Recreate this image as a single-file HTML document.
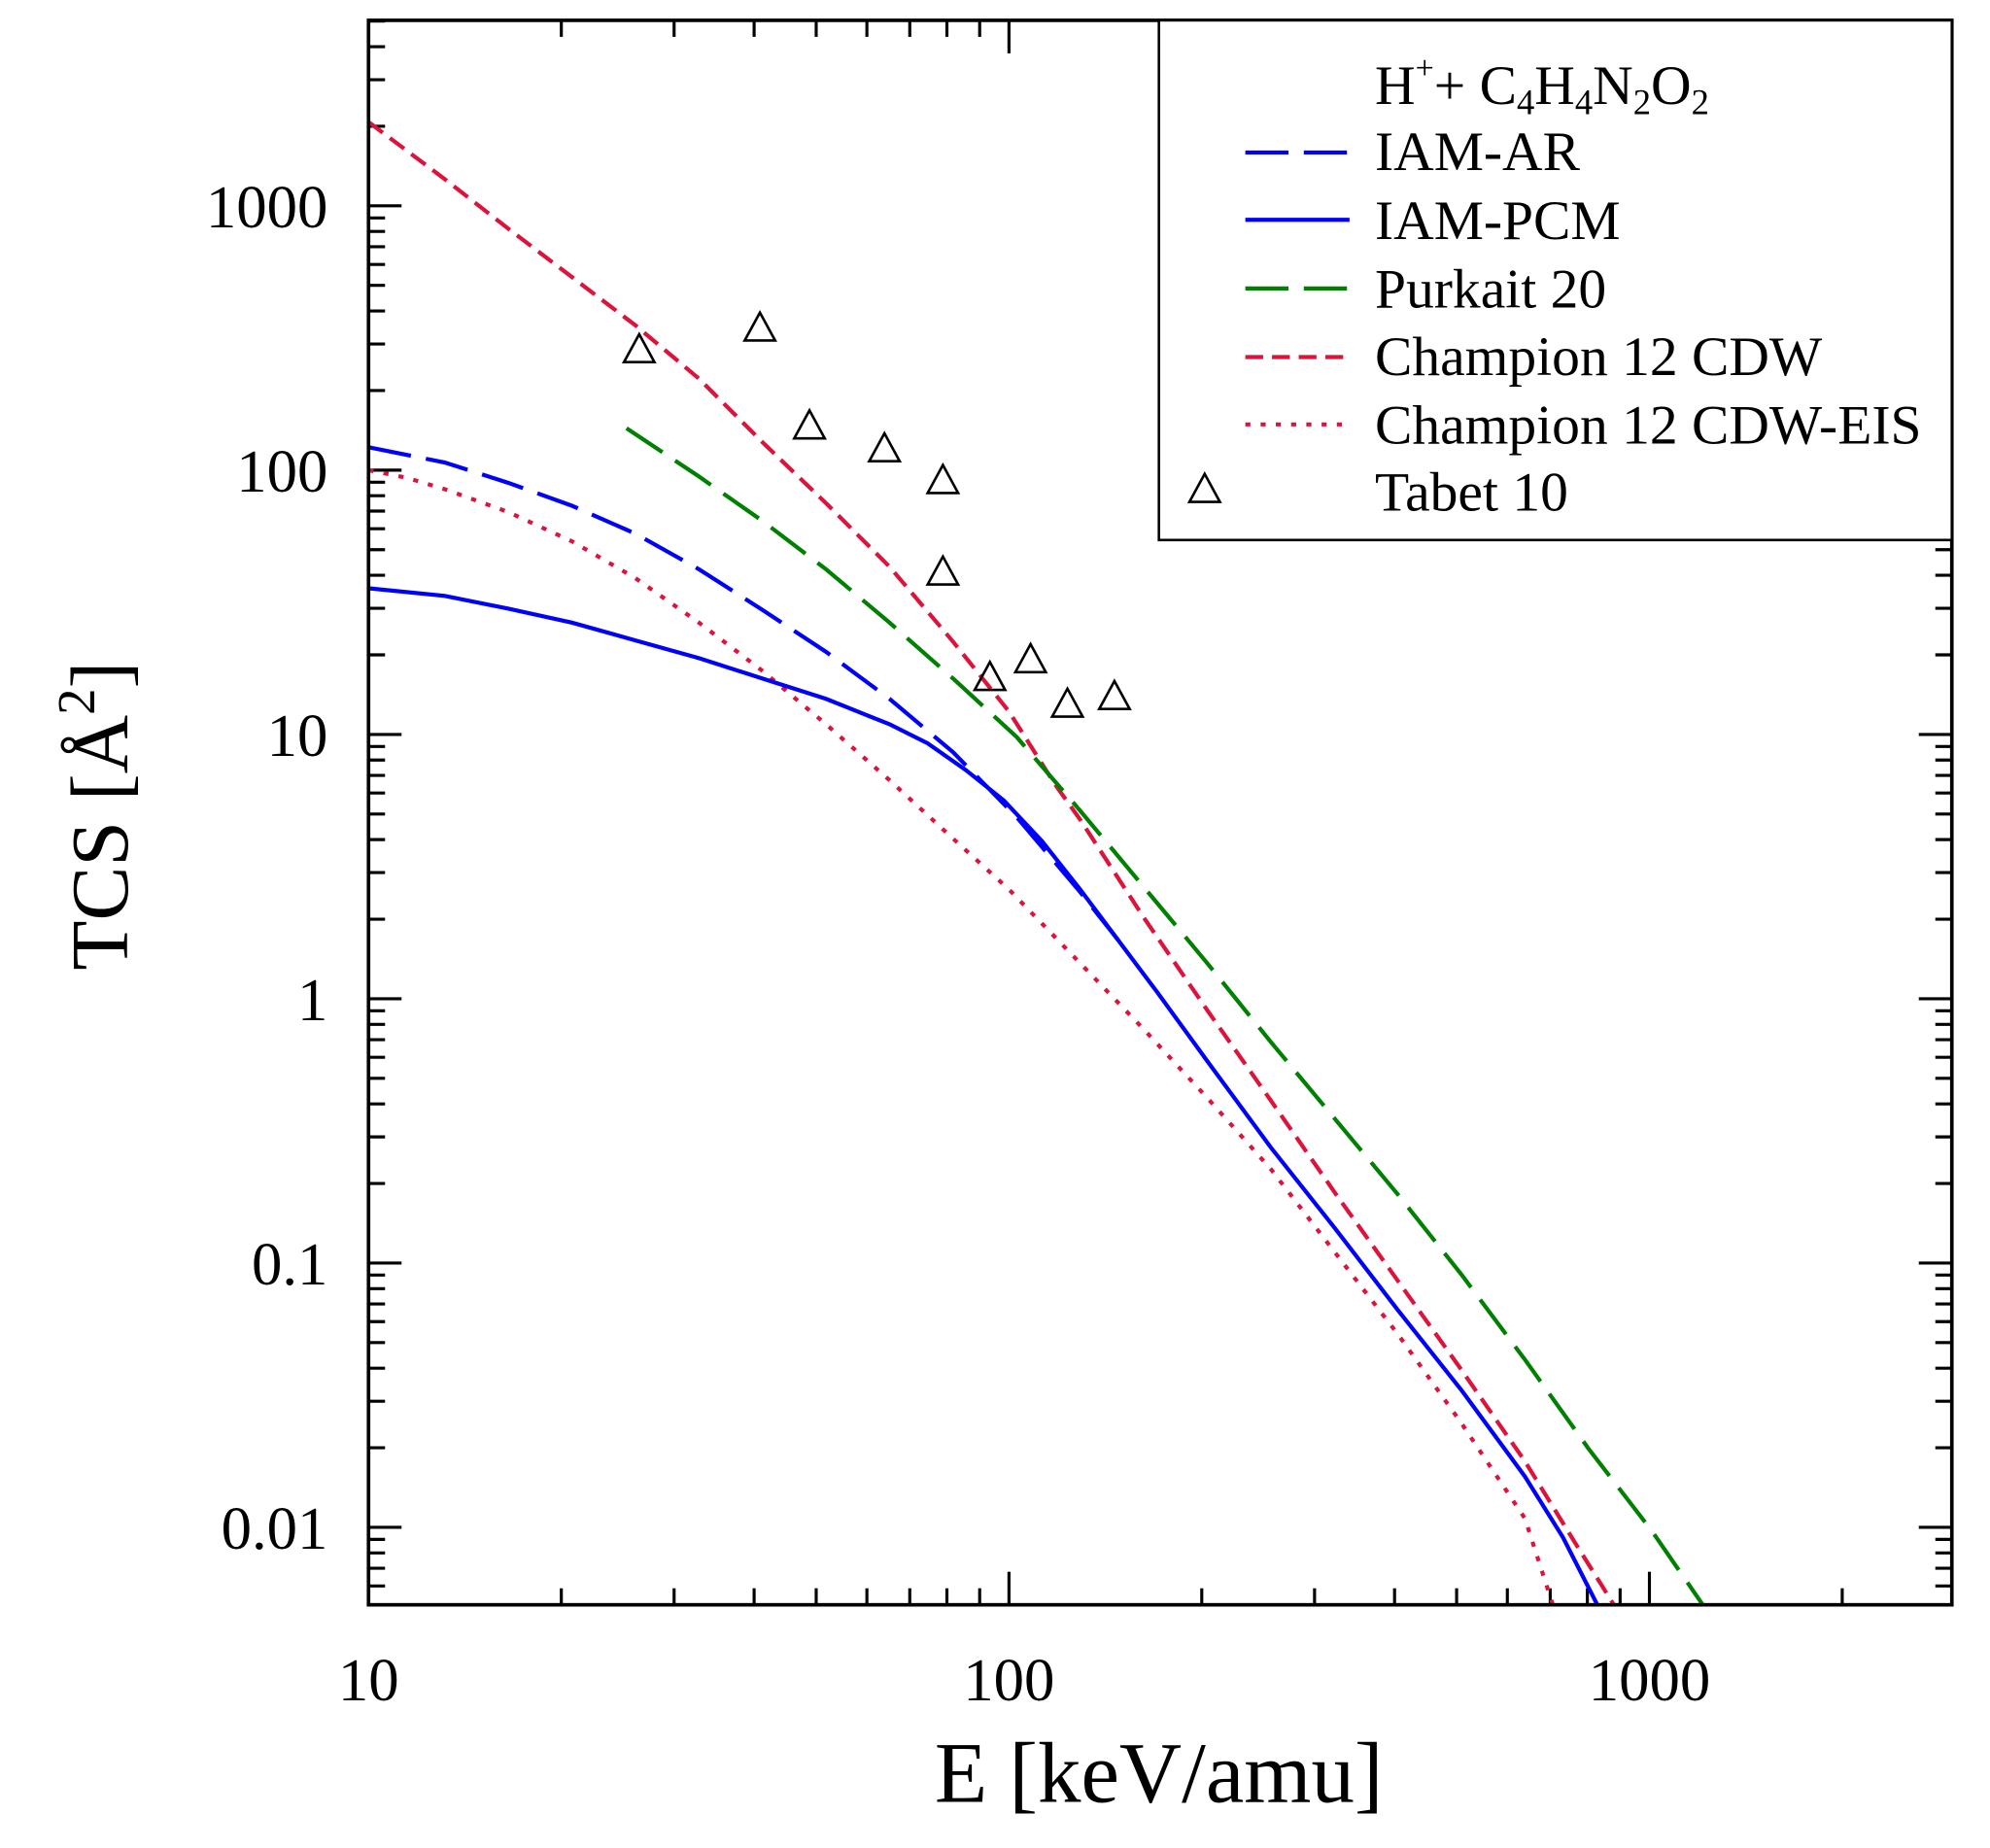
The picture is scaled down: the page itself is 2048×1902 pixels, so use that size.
<!DOCTYPE html>
<html><head><meta charset="utf-8"><style>
html,body{margin:0;padding:0;background:#fff}
svg{display:block}
text{font-family:"Liberation Serif",serif;fill:#000}
</style></head><body>
<svg id="s" width="2048" height="1902" viewBox="0 0 1566 1454.4" xmlns="http://www.w3.org/2000/svg">
<rect x="0" y="0" width="1566" height="1455" fill="#fff"/>
<g id="ticks" stroke="#000" stroke-width="2.4"></g>
<g fill="none" stroke-width="3.2">
<polyline stroke="#dc143c" stroke-dasharray="14,7" points="290,96 350,141 400,180 450,218 500,256 550,298 600,348 650,396 700,446 750,505 794,560 830,617 850,645 900,722 950,795 1000,866 1050,938 1100,1008 1150,1078 1200,1150 1240,1215 1270,1263"/>
<polyline stroke="#dc143c" stroke-dasharray="4,8" points="290,370 320,376 350,385 400,403 450,426 500,455 550,490 600,528 650,570 700,614 750,660 794,700 850,758 900,810 950,864 1000,920 1050,985 1100,1050 1150,1120 1200,1195 1222,1263"/>
<polyline stroke="#0000ff" stroke-dasharray="34,12" points="290,352 350,364 400,380 450,398 500,420 550,448 600,480 650,513 700,550 750,592 800,643 850,702 880,740"/>
<polyline stroke="#0000ff" points="290,463 350,469 400,479 450,490 500,504 550,518 600,534 650,550 700,570 730,585 760,606 790,630 820,662 850,700 880,740 910,780 950,835 1000,903 1050,966 1100,1031 1150,1094 1200,1162 1230,1210 1257,1263"/>
<polyline stroke="#008000" stroke-dasharray="34,12" points="493,337 550,375 600,410 650,448 700,490 750,534 800,580 850,638 900,698 950,758 1000,820 1050,880 1100,940 1150,1003 1200,1070 1250,1140 1300,1205 1340,1263"/>
</g>
<rect x="290" y="16" width="1246" height="1247" fill="none" stroke="#000" stroke-width="2.8"/>
<rect x="912" y="16" width="624" height="409" fill="#fff" stroke="#000" stroke-width="2"/>
<g id="tri" fill="none" stroke="#000" stroke-width="2"></g>
<g font-size="44">
<text x="1082" y="82">H<tspan font-size="26" dy="-20">+</tspan><tspan dy="20">+ C</tspan><tspan font-size="28" dy="8">4</tspan><tspan dy="-8">H</tspan><tspan font-size="28" dy="8">4</tspan><tspan dy="-8">N</tspan><tspan font-size="28" dy="8">2</tspan><tspan dy="-8">O</tspan><tspan font-size="28" dy="8">2</tspan></text>
<text x="1082" y="134">IAM-AR</text>
<text x="1082" y="188">IAM-PCM</text>
<text x="1082" y="242">Purkait 20</text>
<text x="1082" y="295">Champion 12 CDW</text>
<text x="1082" y="349">Champion 12 CDW-EIS</text>
<text x="1082" y="402">Tabet 10</text>
</g>
<g fill="none" stroke-width="3.2">
<line x1="980" y1="120" x2="1062" y2="120" stroke="#0000ff" stroke-dasharray="34,12"/>
<line x1="980" y1="173" x2="1062" y2="173" stroke="#0000ff"/>
<line x1="980" y1="227" x2="1062" y2="227" stroke="#008000" stroke-dasharray="34,12"/>
<line x1="980" y1="281" x2="1062" y2="281" stroke="#dc143c" stroke-dasharray="14,7"/>
<line x1="980" y1="334" x2="1062" y2="334" stroke="#dc143c" stroke-dasharray="4,8"/>
</g>
<g font-size="48" text-anchor="end">
<text x="258" y="179">1000</text>
<text x="258" y="387">100</text>
<text x="258" y="595">10</text>
<text x="258" y="803">1</text>
<text x="258" y="1011">0.1</text>
<text x="258" y="1219">0.01</text>
</g>
<g font-size="48" text-anchor="middle">
<text x="290" y="1338">10</text>
<text x="794" y="1338">100</text>
<text x="1298" y="1338">1000</text>
</g>
<text x="912" y="1418" font-size="68" text-anchor="middle">E [keV/amu]</text>
<text transform="translate(100,642) rotate(-90)" font-size="64" text-anchor="middle">TCS [Å<tspan font-size="42" dy="-26">2</tspan><tspan dy="26">]</tspan></text>
</svg>
<script>
var NS="http://www.w3.org/2000/svg";
var g=document.getElementById("ticks");
function L(x1,y1,x2,y2){var l=document.createElementNS(NS,"line");l.setAttribute("x1",x1);l.setAttribute("y1",y1);l.setAttribute("x2",x2);l.setAttribute("y2",y2);g.appendChild(l);}
for(var d=0;d<3;d++){for(var m=1;m<=9;m++){var x=290+504*(d+Math.log10(m));if(x>1536)break;var len=(m==1)?26:13;L(x,1263,x,1263-len);L(x,16,x,16+len);}}
for(var e=-3;e<=4;e++){for(var m=1;m<=9;m++){var y=162+208*(3-e-Math.log10(m));if(y<16||y>1263)continue;var len=(m==1)?26:13;L(290,y,290+len,y);L(1536,y,1536-len,y);}}
var t=document.getElementById("tri");
[[503,275],[598,258],[637,335],[696,353],[742,378],[742,450],[779,533],[811,519],[840,554],[877,548],[948,385]].forEach(function(p){var s=document.createElementNS(NS,"polygon");var x=p[0],y=p[1];s.setAttribute("points",(x-12)+","+(y+10)+" "+(x+12)+","+(y+10)+" "+x+","+(y-12));t.appendChild(s);});
</script>
</body></html>
